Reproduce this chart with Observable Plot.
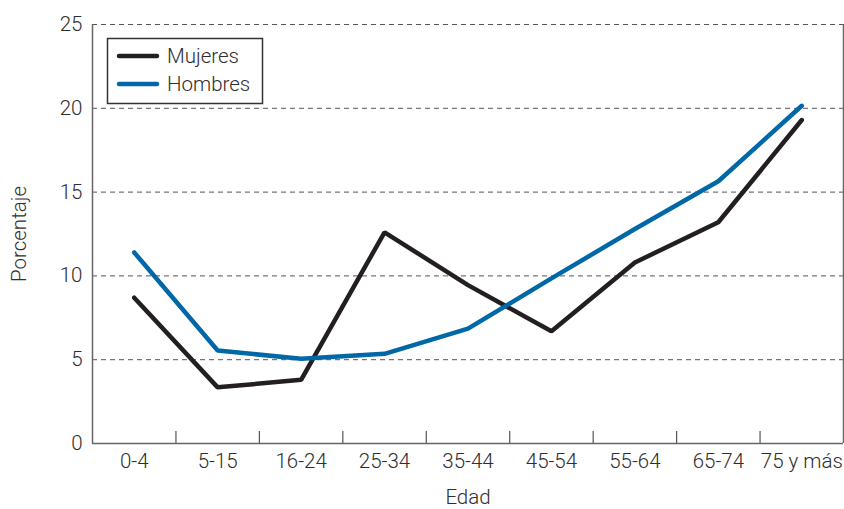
<!DOCTYPE html>
<html>
<head>
<meta charset="utf-8">
<script src="https://cdn.jsdelivr.net/npm/d3@7"></script>
<script src="https://cdn.jsdelivr.net/npm/@observablehq/plot@0.6"></script>
<style>
  html, body { margin: 0; padding: 0; background: #fff; }
  #chart svg { display: block; }
</style>
</head>
<body>
<div id="chart"></div>
<script>
const ages = ["0-4", "5-15", "16-24", "25-34", "35-44", "45-54", "55-64", "65-74", "75 y más"];
const mujeres = [8.7, 3.35, 3.8, 12.6, 9.45, 6.7, 10.8, 13.2, 19.3];
const hombres = [11.4, 5.55, 5.05, 5.35, 6.85, 9.85, 12.8, 15.65, 20.15];
const yTicks = [0, 5, 10, 15, 20, 25];
const series = [
  {name: "Mujeres", values: mujeres, color: "#231f20"},
  {name: "Hombres", values: hombres, color: "#0068a6"}
];

const rows = series.flatMap(s => s.values.map((v, i) => ({serie: s.name, i, v})));
const idx = d3.range(ages.length);
const bounds = d3.range(1, ages.length).map(i => i - 0.5);

const font = "Roboto, 'Liberation Sans', sans-serif";
const textColor = "#2e2e2e";
const fs = 20.5;

const plot = Plot.plot({
  width: 844,
  height: 509,
  marginLeft: 92,
  marginRight: 1,
  marginTop: 24,
  marginBottom: 66,
  style: {fontFamily: font, fontSize: fs + "px", fontWeight: 300, color: textColor, background: "#fff"},
  x: {type: "linear", domain: [-0.5, ages.length - 0.5]},
  y: {domain: [0, 25]},
  color: {domain: series.map(s => s.name), range: series.map(s => s.color)},
  marks: [
    Plot.ruleY(yTicks.filter(d => d > 0), {stroke: "#555", strokeWidth: 1, strokeDasharray: "5,4"}),
    Plot.ruleX([-0.5, ages.length - 0.5], {stroke: "#666", strokeWidth: 1.5}),
    Plot.ruleY([0], {stroke: "#666", strokeWidth: 1.5}),
    Plot.ruleX(bounds, {y1: 0, y2: 0.72, stroke: "#555", strokeWidth: 1.2}),
    Plot.axisY({ticks: yTicks, tickSize: 0, tickPadding: 10, label: null, fontSize: fs, fill: textColor}),
    Plot.axisX({ticks: idx, tickFormat: i => ages[i], tickSize: 0, tickPadding: 10, label: null, fontSize: fs, fill: textColor}),
    Plot.line(rows, {x: "i", y: "v", z: "serie", stroke: "serie", strokeWidth: 4.5,
      strokeLinecap: "round", strokeLinejoin: "miter"}),
    Plot.text(["Porcentaje"], {frameAnchor: "left", dx: -73, rotate: -90, textAnchor: "middle", lineAnchor: "middle",
      text: d => d, fontSize: fs, fill: textColor}),
    Plot.text(["Edad"], {frameAnchor: "bottom", dy: 54, textAnchor: "middle", lineAnchor: "middle",
      text: d => d, fontSize: fs, fill: textColor})
  ]
});

// Legend (inside plot area, top-left)
const svg = d3.select(plot);
const lg = svg.append("g")
  .style("font-family", font).style("font-weight", 300).style("font-size", fs + "px")
  .attr("text-anchor", "start");
lg.append("rect").attr("x", 107.5).attr("y", 38.5).attr("width", 155).attr("height", 65)
  .attr("fill", "#fff").attr("stroke", "#333").attr("stroke-width", 1.5);
series.forEach((s, k) => {
  const y = 56 + k * 28;
  lg.append("line").attr("x1", 119).attr("x2", 157).attr("y1", y).attr("y2", y)
    .attr("stroke", s.color).attr("stroke-width", 4.5).attr("stroke-linecap", "round");
  lg.append("text").attr("x", 167).attr("y", y).attr("dy", "0.35em")
    .style("text-anchor", "start").attr("fill", textColor).text(s.name);
});

document.getElementById("chart").appendChild(plot);
</script>
</body>
</html>
